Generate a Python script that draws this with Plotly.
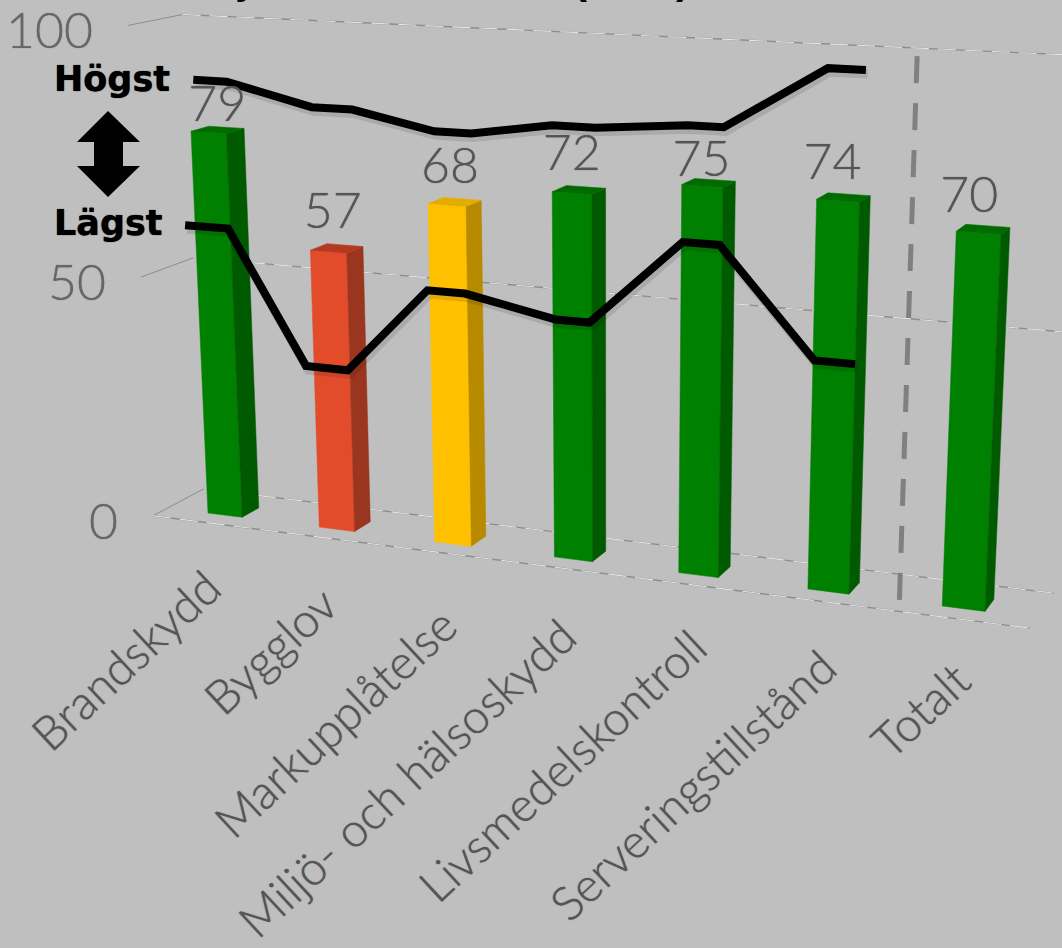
import plotly.graph_objects as go

# ---- chart data ----
CATEGORIES = ["Brandskydd", "Bygglov", "Markupplåtelse", "Miljö- och hälsoskydd",
              "Livsmedelskontroll", "Serveringstillstånd", "Totalt"]
VALUES = [79, 57, 68, 72, 75, 74, 70]
HIGHEST = [89.2, 85.2, 82, 84.5, 86, 97.6]
LOWEST = [60, 33.4, 51, 47.5, 64.3, 44.2]
AXIS_TICKS = [0, 50, 100]
BAR_FRONT = ["#008000", "#E34C2B", "#FFC000", "#008000", "#008000", "#008000", "#008000"]
BAR_SIDE = ["#005A00", "#9A3520", "#B78A00", "#005A00", "#005A00", "#005A00", "#005A00"]
BAR_TOP = ["#006C00", "#B33A20", "#E5AC00", "#006C00", "#006C00", "#006C00", "#006C00"]

# ---- placement of the decorations ----
LABEL_CENTERS = [(125, 660), (270, 650), (335, 722), (406, 778), (562, 765), (692, 785), (920, 710)]
LABEL_LIFT = [4.3, 6.5, 6.0, 6.0, 3.5, 5.5, 5.2]
LABEL_NUDGE = [0.16, 0.13, 0.12, 0.10, 0.10, 0.07, 0.05]
HI_LEFT = [0.04, 0.05, 0.06, 0.0, 0.04, 0.06]
HI_RIGHT = [0.33, 0.39, 0.36, 0.34, 0.31, 0.33]
LO_LEFT = [-0.09, -0.07, -0.02, 0.02, 0.01, 0.01]
LO_RIGHT = [0.29, 0.29, 0.29, 0.29, 0.29, 0.31]
TITLE_PIECES = [("j", 243), ("(", 580), (")", 683)]

# ---- perspective camera: (category x, depth d, value v) -> page pixel ----
def project(x, d, v):
    w = 1 - 0.0178 * x + 0.0119 * d - 0.000515 * v
    return ((208 + 105.6 * x + 19.7 * d - 0.3135 * v) / w,
            (513 + 4.71 * x - 3.34 * d - 4.9 * v) / w)

BAR_W = 0.31
BAR_D = 1.0
X_MIN, X_MAX = -0.37, 6.68
D_MIN, D_MAX = -0.83, 2.1
GREY_TXT = "#555555"
FONT = "Lato"
THICKEN = "0 0 1px #555555"

fig = go.Figure()

def poly(points, color):
    pts = [project(*p) for p in points]
    fig.add_trace(go.Scatter(x=[p[0] for p in pts] + [pts[0][0]], y=[p[1] for p in pts] + [pts[0][1]],
                             mode="lines", fill="toself", fillcolor=color,
                             line=dict(color=color, width=0.5), hoverinfo="skip", showlegend=False))

def path(points, color, width, dash=None, dx=0, dy=0):
    pts = [project(*p) for p in points]
    fig.add_trace(go.Scatter(x=[p[0] + dx for p in pts], y=[p[1] + dy for p in pts], mode="lines",
                             line=dict(color=color, width=width, dash=dash), hoverinfo="skip", showlegend=False))

# box: gridlines on the back wall, left wall and floor
for t in AXIS_TICKS:
    back = [(X_MIN, D_MAX, t), (X_MAX, D_MAX, t)]
    path([(X_MIN, D_MIN, t), (X_MIN, D_MAX, t)], "#8c8c8c", 1)
    path(back, "#8e8e8e", 1.4)
    path(back, "#e4e4e4", 1.1, dash="18px,9px")
floor_front = [(X_MIN, D_MIN, 0), (X_MAX, D_MIN, 0)]
path(floor_front, "#8e8e8e", 1.4)
path(floor_front, "#e4e4e4", 1.1, dash="18px,9px")

# 3-D bars
for i, v in enumerate(VALUES):
    l, r = i, i + BAR_W
    poly([(l, 0, 0), (r, 0, 0), (r, 0, v), (l, 0, v)], BAR_FRONT[i])
    poly([(r, 0, 0), (r, BAR_D, 0), (r, BAR_D, v), (r, 0, v)], BAR_SIDE[i])
    poly([(l, 0, v), (r, 0, v), (r, BAR_D, v), (l, BAR_D, v)], BAR_TOP[i])

# divider between the areas and the total
path([(5.65, 0.5, 100), (5.65, 0.5, -5)], "#808080", 5, dash="27px,20px")

# highest / lowest lines
hi_pts, lo_pts = [], []
for i, (h, m) in enumerate(zip(HIGHEST, LOWEST)):
    hi_pts += [(i + HI_LEFT[i], 0, h), (i + HI_RIGHT[i], 0, h)]
    lo_pts += [(i + LO_LEFT[i], 0, m), (i + LO_RIGHT[i], 0, m)]
for pts in (hi_pts, lo_pts):
    path(pts, "rgba(0,0,0,0.11)", 9, dx=2, dy=4)
    path(pts, "#000000", 8)

# value labels
lab = [project(i + LABEL_NUDGE[i], 0.5, v + LABEL_LIFT[i]) for i, v in enumerate(VALUES)]
fig.add_trace(go.Scatter(x=[p[0] for p in lab], y=[p[1] for p in lab], mode="text",
                         text=[str(v) for v in VALUES], textposition="middle center",
                         textfont=dict(family=FONT, size=50, color=GREY_TXT, weight=300, shadow=THICKEN),
                         hoverinfo="skip", showlegend=False, cliponaxis=False))

ann = []
# axis tick labels
for t in AXIS_TICKS:
    px, py = project(X_MIN, D_MIN, t)
    ann.append(dict(x=px - 33, y=py + 4, text=str(t), showarrow=False, xanchor="right", yanchor="middle",
                    font=dict(family=FONT, size=50, color="#666666", weight=300, shadow="0 0 1px #666666")))
# category labels
for name, (cx, cy) in zip(CATEGORIES, LABEL_CENTERS):
    ann.append(dict(x=cx, y=cy, text=name, textangle=-43, showarrow=False, xanchor="center", yanchor="middle",
                    font=dict(family=FONT, size=47, color=GREY_TXT, weight=300, shadow=THICKEN)))
# Högst / Lägst captions
for name, cx, cy in (("Högst", 112, 79), ("Lägst", 108, 223)):
    ann.append(dict(x=cx, y=cy, text=f"<b>{name}</b>", showarrow=False, xanchor="center", yanchor="middle",
                    font=dict(family="DejaVu Sans", size=35, color="#000000", shadow="0 0 1px #000")))
# title, cut off by the top edge of the picture
for piece, cx in TITLE_PIECES:
    ann.append(dict(x=cx, y=0, yshift=22, text=f"<b>{piece}</b>", showarrow=False, xanchor="center", yanchor="middle",
                    font=dict(family="Liberation Sans", size=42, color="#000000")))

arrow = dict(type="path", xref="x", yref="y", fillcolor="#000000", line=dict(width=0),
             path="M108,111 L140,142 L123,142 L123,166 L140,166 L108,197 L77,166 L94,166 L94,142 L77,142 Z")

fig.update_layout(width=1062, height=948, margin=dict(l=0, r=0, t=0, b=0),
                  paper_bgcolor="#BFBFBF", plot_bgcolor="#BFBFBF", showlegend=False,
                  xaxis=dict(range=[0, 1062], visible=False, fixedrange=True),
                  yaxis=dict(range=[948, 0], visible=False, fixedrange=True),
                  annotations=ann, shapes=[arrow])
fig.write_html("out.html", config=dict(displayModeBar=False), post_script="document.body.style.margin='0';")
